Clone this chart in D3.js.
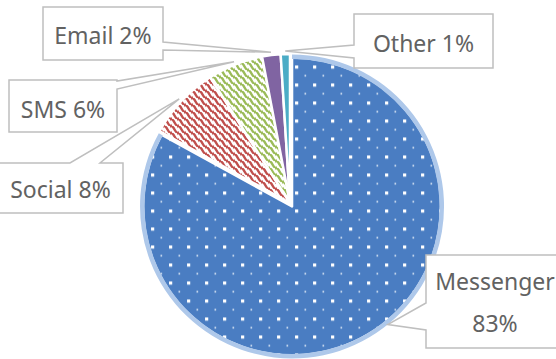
<!DOCTYPE html>
<html>
<head>
<meta charset="utf-8">
<script src="https://cdn.jsdelivr.net/npm/d3@7"></script>
<style>
  body { margin: 0; background: #fff; }
  svg { display: block; }
  .lbl { font-family: "Noto Sans", sans-serif; font-size: 23px; fill: #626262; }
</style>
</head>
<body>
<div class="chart"></div>
<script>
// pie data
const categories = ["Messenger", "Social", "SMS", "Email", "Other"];
const values = [83, 8, 6, 2, 1];
const labelText = [["Messenger", "83%"], ["Social 8%"], ["SMS 6%"], ["Email 2%"], ["Other 1%"]];

const width = 556, height = 359;
const cx = 290, cy = 203, radius = 149;

const svg = d3.select(".chart")
  .append("svg")
  .attr("width", width)
  .attr("height", height);

const defs = svg.append("defs");

// dotted blue
const dots = defs.append("pattern")
  .attr("id", "dots")
  .attr("patternUnits", "userSpaceOnUse")
  .attr("width", 18).attr("height", 18);
dots.append("rect").attr("width", 18).attr("height", 18).attr("fill", "#4a7dc2");
dots.append("rect").attr("x", 3).attr("y", 3).attr("width", 3.2).attr("height", 3.2).attr("fill", "#fff");
dots.append("rect").attr("x", 12.5).attr("y", 12.5).attr("width", 1.6).attr("height", 1.6).attr("fill", "#e4edf8");

// wavy diagonal stripes
function stripes(id, color) {
  const p = defs.append("pattern")
    .attr("id", id)
    .attr("patternUnits", "userSpaceOnUse")
    .attr("width", 7).attr("height", 7);
  p.append("rect").attr("width", 7).attr("height", 7).attr("fill", "#fff");
  p.append("path")
    .attr("d", "M-1,-1 Q2,0.5 3.5,3.5 T8,8 M-4.5,2.5 Q-1.5,4 0,7 T4.5,11.5 M2.5,-4.5 Q5.5,-3 7,0 T11.5,4.5")
    .attr("fill", "none")
    .attr("stroke", color)
    .attr("stroke-width", 2.4);
}
stripes("redwave", "#c0504d");
stripes("greenwave", "#9bbb59");

const fills = ["url(#dots)", "url(#redwave)", "url(#greenwave)", "#8064a2", "#4bacc6"];

const pie = d3.pie().sort(null).value(d => d);
const arcs = pie(values);
const arc = d3.arc().innerRadius(0).outerRadius(radius);
const glow = d3.arc().innerRadius(radius - 1.5).outerRadius(radius + 3);

// explode the first slice a little
const explode = [4, 0, 0, 0, 0];
function offset(d, i) {
  const a = (d.startAngle + d.endAngle) / 2;
  return [cx + explode[i] * Math.sin(a), cy - explode[i] * Math.cos(a)];
}

const g = svg.append("g");
arcs.forEach((d, i) => {
  const [ox, oy] = offset(d, i);
  const s = g.append("g").attr("transform", `translate(${ox},${oy})`);
  s.append("path")
    .attr("d", arc(d))
    .attr("fill", fills[i])
    .attr("stroke", "#fff")
    .attr("stroke-width", 2.5)
    .attr("stroke-linejoin", "round");
  if (i === 0) {
    // soft light-blue rim on the big slice
    s.append("path").attr("d", glow(d)).attr("fill", "#aec8ea");
  }
});

// callout boxes: x, y, w, h, side of the wedge, wedge base start/end along that side
const boxes = [
  { x: 426, y: 255, w: 145, h: 93, side: "left", b0: 303, b1: 330, angle: 141 * Math.PI / 180 },
  { x: -2, y: 163, w: 125, h: 50, side: "top", b0: 70, b1: 100 },
  { x: 9, y: 80, w: 108, h: 52, side: "right", b0: 81, b1: 89 },
  { x: 43, y: 7, w: 120, h: 53, side: "right", b0: 42, b1: 50 },
  { x: 354, y: 14, w: 139, h: 54, side: "left", b0: 45, b1: 58 }
];
const baselines = [[290, 332], [198], [118], [44], [52]];

function callout(b, tip) {
  const x0 = b.x, y0 = b.y, x1 = b.x + b.w, y1 = b.y + b.h;
  const t = `L${tip[0]},${tip[1]}`;
  if (b.side === "left")
    return `M${x0},${y0}L${x1},${y0}L${x1},${y1}L${x0},${y1}L${x0},${b.b1}${t}L${x0},${b.b0}Z`;
  if (b.side === "right")
    return `M${x0},${y0}L${x1},${y0}L${x1},${b.b0}${t}L${x1},${b.b1}L${x1},${y1}L${x0},${y1}Z`;
  // top
  return `M${x0},${y0}L${b.b0},${y0}${t}L${b.b1},${y0}L${x1},${y0}L${x1},${y1}L${x0},${y1}Z`;
}

const labels = svg.append("g");
arcs.forEach((d, i) => {
  const b = boxes[i];
  const [ox, oy] = offset(d, i);
  const a = b.angle !== undefined ? b.angle : (d.startAngle + d.endAngle) / 2;
  const tip = [ox + (radius + 3) * Math.sin(a), oy - (radius + 3) * Math.cos(a)];
  labels.append("path")
    .attr("d", callout(b, tip))
    .attr("fill", "#fff")
    .attr("stroke", "#bfbfbf")
    .attr("stroke-width", 1.5)
    .attr("stroke-linejoin", "miter");
  labelText[i].forEach((line, j) => {
    labels.append("text")
      .attr("class", "lbl")
      .attr("x", i === 0 ? 495 : b.x + b.w / 2)
      .attr("y", baselines[i][j])
      .attr("text-anchor", "middle")
      .text(line);
  });
});
</script>
</body>
</html>
